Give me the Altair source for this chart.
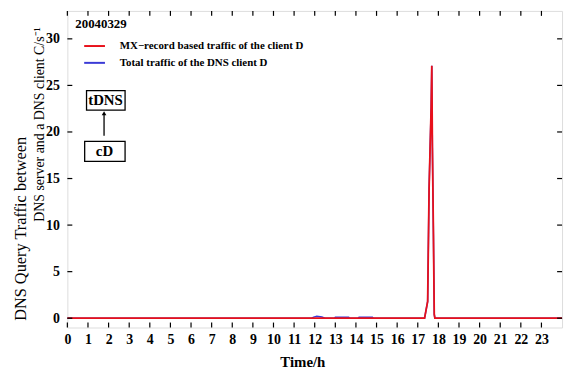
import altair as alt
import pandas as pd

# --- data ---
mx_hours  = [0, 17.33, 17.48, 17.55, 17.60, 17.65, 17.68, 17.71, 17.76, 17.80, 17.83, 24]
mx_values = [0, 0,     1.8,   14.0,  18.4,  22.7,  27.1,  18.3,  9.0,   0.4,   0,     0]

tot_hours  = [0, 11.85, 11.95, 12.10, 12.35, 12.5, 12.95, 13.0, 13.65, 13.7, 14.1, 14.15, 14.8, 14.85,
              17.33, 17.48, 17.55, 17.60, 17.65, 17.68, 17.71, 17.76, 17.80, 17.83, 24]
tot_values = [0, 0,     0.12,  0.2,   0.12,  0,    0,     0.1,  0.1,   0,    0,    0.1,   0.1,  0,
              0,     1.8,   14.0,  18.4,  22.7,  27.1,  18.3,  9.0,   0.4,   0,     0]

series_names = ["MX\u2212record based traffic of the client D", "\u2002Total traffic of the DNS client D"]
series_colors = ["#e8101a", "#3a3ad6"]

x_ticks = list(range(0, 24))
y_ticks = [0, 5, 10, 15, 20, 25, 30]

y_title_lines = ["DNS Query Traffic between", "DNS server and a DNS client C/s\u207b\u00b9"]

box_labels = ["tDNS", "cD"]
box_x  = [1.85, 1.8]
box_y  = [23.4, 17.9]
box_x1 = [0.93, 0.84]
box_x2 = [2.8, 2.8]
box_y1 = [22.35, 16.85]
box_y2 = [24.45, 19.0]
arrow_x = [1.78]
arrow_y1 = [19.6]
arrow_y2 = [22.0]

W, H = 500, 320
FONT = "Liberation Serif"

df_mx = pd.DataFrame({"t": mx_hours, "v": mx_values, "s": series_names[0]})
df_tot = pd.DataFrame({"t": tot_hours, "v": tot_values, "s": series_names[1]})

xs = alt.Scale(domain=[0, 24], nice=False, zero=False)
ys = alt.Scale(domain=[-1, 33], nice=False, zero=False)
cs = alt.Scale(domain=series_names, range=series_colors)

xaxis = alt.Axis(values=x_ticks, format="d", ticks=False, domain=False, grid=False,
                 labelFont=FONT, labelFontWeight="bold", labelFontSize=14, labelColor="black",
                 labelPadding=5, labelOverlap=False, labelFlush=False,
                 title="Time/h", titleFont=FONT, titleFontWeight="bold",
                 titleFontSize=15, titleColor="black", titlePadding=8, titleX=W * 0.475)
yaxis = alt.Axis(values=y_ticks, format="d", ticks=False, domain=False, grid=False,
                 labelFont=FONT, labelFontWeight="bold", labelFontSize=14, labelColor="black",
                 labelPadding=8, labelOverlap=False, title="")

legend = alt.Legend(title="20040329", orient="none", legendX=8, legendY=7,
                    titleFont=FONT, titleFontSize=13, titleFontWeight="bold", titleColor="black",
                    titlePadding=4, labelFont=FONT, labelFontSize=11, labelFontWeight="bold",
                    labelColor="black", labelOffset=14, symbolType="stroke", symbolSize=441,
                    symbolStrokeWidth=2, rowPadding=-4, symbolOffset=8, labelLimit=400)

blue = alt.Chart(df_tot).mark_line(strokeWidth=1.5).encode(
    x=alt.X("t:Q", scale=xs, axis=xaxis),
    y=alt.Y("v:Q", scale=ys, axis=yaxis),
    color=alt.Color("s:N", scale=cs, legend=legend),
)
red = alt.Chart(df_mx).mark_line(strokeWidth=1.8).encode(
    x=alt.X("t:Q", scale=xs, axis=xaxis),
    y=alt.Y("v:Q", scale=ys, axis=yaxis),
    color=alt.Color("s:N", scale=cs, legend=legend),
)

# inward ticks on all four sides
dfx = pd.DataFrame({"t": x_ticks})
dfy = pd.DataFrame({"v": y_ticks})
tick_bottom = alt.Chart(dfx).mark_rule(color="black", strokeWidth=1.2).encode(
    x=alt.X("t:Q", scale=xs, axis=xaxis), y=alt.value(H), y2=alt.value(H - 5))
tick_top = alt.Chart(dfx).mark_rule(color="black", strokeWidth=1.2).encode(
    x=alt.X("t:Q", scale=xs, axis=xaxis), y=alt.value(0), y2=alt.value(5))
tick_left = alt.Chart(dfy).mark_rule(color="black", strokeWidth=1.2).encode(
    y=alt.Y("v:Q", scale=ys, axis=yaxis), x=alt.value(0), x2=alt.value(5))
tick_right = alt.Chart(dfy).mark_rule(color="black", strokeWidth=1.2).encode(
    y=alt.Y("v:Q", scale=ys, axis=yaxis), x=alt.value(W), x2=alt.value(W - 5))

# y-axis title (two lines, offset from each other as in the reference)
ytitle1 = alt.Chart(pd.DataFrame({"txt": [y_title_lines[0]]})).mark_text(
    font=FONT, fontSize=16.5, color="black", angle=270, align="center", baseline="middle"
).encode(text="txt:N", x=alt.value(-47), y=alt.value(H * 234 / 340))
ytitle2 = alt.Chart(pd.DataFrame({"txt": [y_title_lines[1]]})).mark_text(
    font=FONT, fontSize=14, color="black", angle=270, align="center", baseline="middle"
).encode(text="txt:N", x=alt.value(-28), y=alt.value(H * 122 / 340))

# annotation boxes
dfb = pd.DataFrame({"label": box_labels, "x": box_x, "y": box_y,
                    "x1": box_x1, "x2": box_x2, "y1": box_y1, "y2": box_y2})
boxes = alt.Chart(dfb).mark_rect(fill="white", stroke="black", strokeWidth=1.3).encode(
    x=alt.X("x1:Q", scale=xs, axis=xaxis), x2="x2:Q", y=alt.Y("y1:Q", scale=ys, axis=yaxis), y2="y2:Q")
box_text = alt.Chart(dfb).mark_text(font=FONT, fontSize=15, fontWeight="bold", color="black",
                                    baseline="middle", align="center").encode(
    x=alt.X("x:Q", scale=xs, axis=xaxis), y=alt.Y("y:Q", scale=ys, axis=yaxis), text="label:N")

dfa = pd.DataFrame({"x": arrow_x, "y1": arrow_y1, "y2": arrow_y2})
arrow_shaft = alt.Chart(dfa).mark_rule(color="black", strokeWidth=1.3).encode(
    x=alt.X("x:Q", scale=xs, axis=xaxis), y=alt.Y("y1:Q", scale=ys, axis=yaxis), y2="y2:Q")
arrow_head = alt.Chart(dfa).mark_point(shape="triangle-up", filled=True, color="black",
                                       size=22, opacity=1).encode(
    x=alt.X("x:Q", scale=xs, axis=xaxis), y=alt.Y("y2:Q", scale=ys, axis=yaxis))

chart = alt.layer(
    blue, red, tick_bottom, tick_top, tick_left, tick_right,
    ytitle1, ytitle2, boxes, box_text, arrow_shaft, arrow_head
).properties(
    width=W, height=H,
    padding={"left": 5, "top": 0, "right": 1, "bottom": 0},
).configure_view(
    stroke="black", strokeWidth=1.5
).configure_axis(
    labelOverlap=False
).configure(background="white")

chart.save("out.html", embed_options={"renderer": "svg", "actions": False})
